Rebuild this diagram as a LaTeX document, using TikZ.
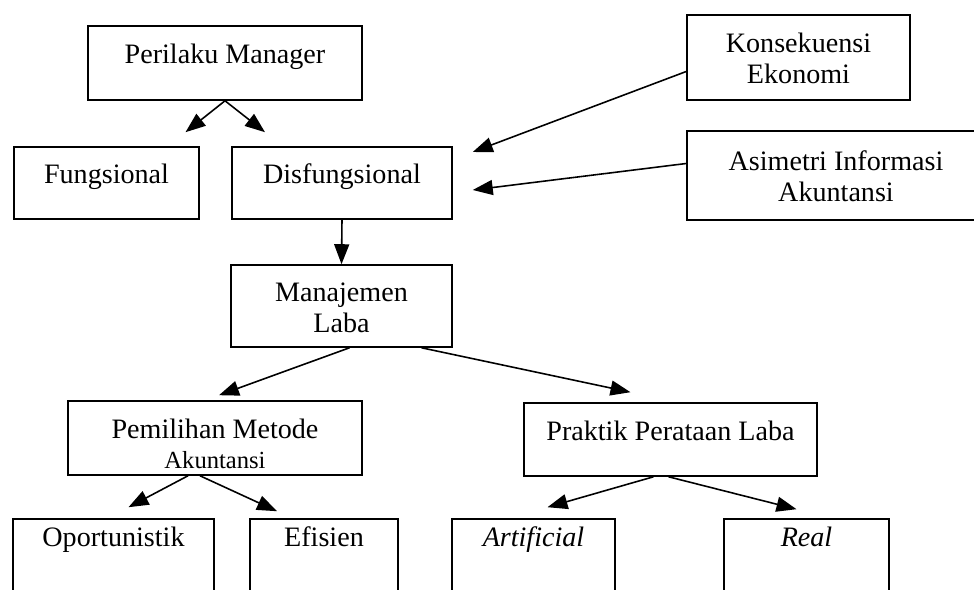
\documentclass[tikz,border=0pt]{standalone}
\usepackage{fontspec}
\setmainfont{Liberation Serif}
\usetikzlibrary{arrows.meta}

\begin{document}
\begin{tikzpicture}[x=0.02cm, y=-0.02cm, line width=0.9pt, main/.style = {draw, rectangle, inner sep=0pt, align=center, font=\fontsize{16}{17.8}\selectfont}, one/.style = {main, text height=9pt, text depth=8pt}, two/.style = {main, text height=30pt, text depth=0pt}, low/.style = {main, text height=8pt, text depth=20.4pt, minimum height=1.52cm}, arr/.style = {-{Triangle[length=4mm, width=3mm]}}]
\useasboundingbox (0,0) rectangle (974,590);
\node[one, minimum width=5.48cm, minimum height=1.48cm] (0) at (225,63) {Perilaku Manager};
\node[one, minimum width=3.7cm, minimum height=1.44cm] (1) at (106.5,183) {Fungsional};
\node[one, minimum width=4.4cm, minimum height=1.44cm] (2) at (342,183) {Disfungsional};
\node[two, minimum width=4.46cm, minimum height=1.7cm] (3) at (798.5,57.5) {Konsekuensi\\Ekonomi};
\node[two, minimum width=5.96cm, minimum height=1.78cm] (4) at (836,175.5) {Asimetri Informasi\\Akuntansi};
\node[two, minimum width=4.42cm, minimum height=1.64cm] (5) at (341.5,306) {Manajemen\\Laba};
\node[two, text height=35pt, minimum width=5.88cm, minimum height=1.48cm] (6) at (215,438) {Pemilihan Metode\\[-0.5pt]{\fontsize{14}{17.8}\selectfont Akuntansi}};
\node[one, minimum width=5.86cm, minimum height=1.46cm] (7) at (670.5,439.5) {Praktik Perataan Laba};
\node[low, minimum width=4.02cm] (8) at (113.5,557) {Oportunistik};
\node[low, minimum width=2.96cm] (9) at (324,557) {Efisien};
\node[low, minimum width=3.26cm] (10) at (533.5,557) {\textit{Artificial}};
\node[low, minimum width=3.3cm] (11) at (806.5,557) {\textit{Real}};
\draw[arr] (0.south) -- ([shift={(79,-14)}]1.north);
\draw[arr] (0.south) -- ([shift={(-77,-14)}]2.north);
\draw[arr] ([shift={(0,14)}]3.west) -- ([shift={(20,-31)}]2.east);
\draw[arr] ([shift={(0,-12)}]4.west) -- ([shift={(20,7)}]2.east);
\draw[arr] (2.south) -- (5.north);
\draw[arr] ([shift={(8,0)}]5.south) -- ([shift={(4,-5)}]6.north);
\draw[arr] ([shift={(80,0)}]5.south) -- ([shift={(-40,-10)}]7.north);
\draw[arr] ([shift={(-27,0)}]6.south) -- ([shift={(15,-11)}]8.north);
\draw[arr] ([shift={(-15,0)}]6.south) -- ([shift={(-47,-7)}]9.north);
\draw[arr] ([shift={(-17,0)}]7.south) -- ([shift={(14,-11)}]10.north);
\draw[arr] ([shift={(-2,0)}]7.south) -- ([shift={(-10,-9)}]11.north);
\end{tikzpicture}
\end{document}
